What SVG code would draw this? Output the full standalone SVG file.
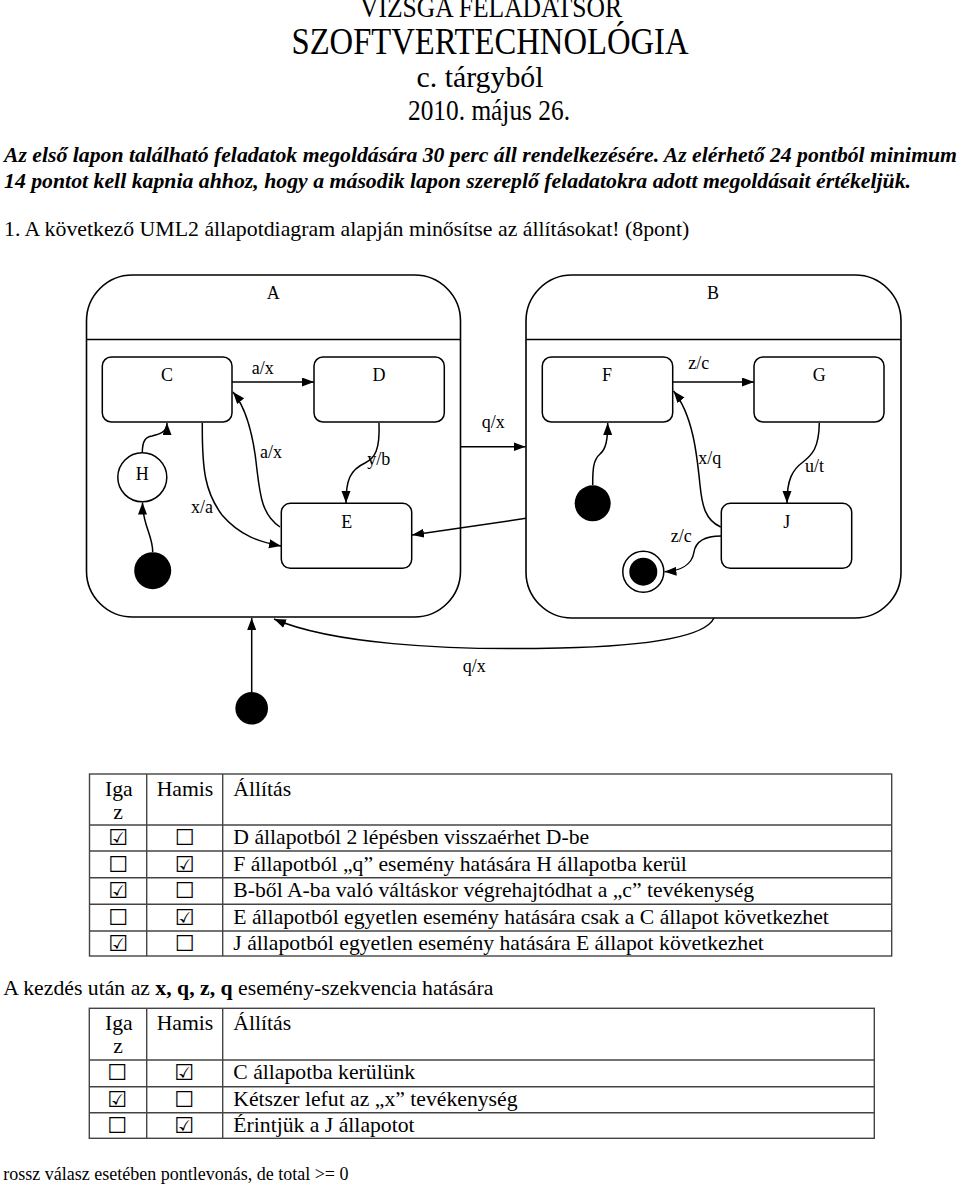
<svg xmlns="http://www.w3.org/2000/svg" width="960" height="1186" viewBox="0 0 960 1186">
<style>
text{font-family:"Liberation Serif","Times New Roman",serif;fill:#000}
.lbl{font-size:18px}
.mid{text-anchor:middle}
.state{fill:#fff;stroke:#000;stroke-width:1.5}
.comp{fill:#fff;stroke:#000;stroke-width:1.6}
.edge{fill:none;stroke:#000;stroke-width:1.5}
.dot{fill:#000}
.tb{font-size:21.7px}
.bi{font-size:21.8px;font-weight:bold;font-style:italic}
.grid{fill:none;stroke:#444;stroke-width:1.4}
.cb{font-family:"DejaVu Sans",sans-serif;font-size:22px;text-anchor:middle}
</style>
<defs>
<marker id="arr" markerUnits="userSpaceOnUse" markerWidth="13" markerHeight="10" refX="12" refY="4.5" orient="auto">
<path d="M0,0 L12,4.5 L0,9 z" fill="#000"/>
</marker>
</defs>
<rect width="960" height="1186" fill="#fff"/>

<g id="header">
<text class="mid" x="491" y="17" font-size="30" textLength="262" lengthAdjust="spacingAndGlyphs">VIZSGA FELADATSOR</text>
<text class="mid" x="490" y="54" font-size="38" textLength="397" lengthAdjust="spacingAndGlyphs">SZOFTVERTECHNOLÓGIA</text>
<text class="mid" x="480" y="87" font-size="30" textLength="127" lengthAdjust="spacingAndGlyphs">c. tárgyból</text>
<text class="mid" x="489" y="120" font-size="30" textLength="162" lengthAdjust="spacingAndGlyphs">2010. május 26.</text>
<text class="bi" x="4" y="162" textLength="953" lengthAdjust="spacingAndGlyphs">Az első lapon található feladatok megoldására 30 perc áll rendelkezésére. Az elérhető 24 pontból minimum</text>
<text class="bi" x="4" y="188" textLength="907" lengthAdjust="spacingAndGlyphs">14 pontot kell kapnia ahhoz, hogy a második lapon szereplő feladatokra adott megoldásait értékeljük.</text>
<text x="4" y="236" font-size="21.8">1. A következő UML2 állapotdiagram alapján minősítse az állításokat! (8pont)</text>
</g>

<g id="A">
<rect class="comp" x="86.5" y="275" width="374" height="342" rx="46" ry="46"/>
<line class="edge" x1="86.5" y1="339.5" x2="460.5" y2="339.5"/>
<text class="lbl mid" x="273.3" y="299">A</text>
</g>
<g id="B">
<rect class="comp" x="526" y="275" width="375" height="343" rx="46" ry="46"/>
<line class="edge" x1="526" y1="339.5" x2="901" y2="339.5"/>
<text class="lbl mid" x="713" y="299">B</text>
</g>

<g id="C"><rect class="state" x="102.3" y="357" width="129.7" height="65" rx="9"/><text class="lbl mid" x="167" y="381">C</text></g>
<g id="D"><rect class="state" x="314" y="357" width="130.3" height="65" rx="9"/><text class="lbl mid" x="379" y="381">D</text></g>
<g id="E"><rect class="state" x="281.3" y="503.3" width="130.4" height="65" rx="9"/><text class="lbl mid" x="346.7" y="527.5">E</text></g>
<g id="H"><circle class="state" cx="142.3" cy="477.3" r="24.5"/><text class="lbl mid" x="142.3" y="479.5">H</text></g>
<g id="initA"><circle class="dot" cx="152.7" cy="570.7" r="18.5"/></g>

<g id="F"><rect class="state" x="542.3" y="357" width="130.4" height="65" rx="9"/><text class="lbl mid" x="607" y="381">F</text></g>
<g id="G"><rect class="state" x="754" y="357" width="130" height="65" rx="9"/><text class="lbl mid" x="819.3" y="381">G</text></g>
<g id="J"><rect class="state" x="721.3" y="503.3" width="130.4" height="65" rx="9"/><text class="lbl mid" x="786.7" y="527.5">J</text></g>
<g id="initB"><circle class="dot" cx="592.7" cy="503.3" r="18"/></g>
<g id="finalB"><circle class="state" cx="643.3" cy="571.7" r="20.5"/><circle class="dot" cx="643.3" cy="571.7" r="14"/></g>

<g id="initTop"><circle class="dot" cx="251.7" cy="708.3" r="16.3"/></g>

<g id="connectors">
<path class="edge" marker-end="url(#arr)" d="M232,382 L314,382"/>
<path class="edge" marker-end="url(#arr)" d="M152.7,552 C152.7,535 142.5,525 142.5,502.5"/>
<path class="edge" marker-end="url(#arr)" d="M142.3,452.8 C142.3,440 146,437 152,436 C160,434 167,432 167,423"/>
<path class="edge" marker-end="url(#arr)" d="M202.3,423 C202,470 205,492 222,515 C240,536 260,542 281,546"/>
<path class="edge" marker-end="url(#arr)" d="M280,527 C262,515 260,495 257,470 C254,440 248,410 233,392"/>
<path class="edge" marker-end="url(#arr)" d="M379,423 C380,450 375,458 365,463 C350,470 346,480 346,503"/>
<path class="edge" marker-end="url(#arr)" d="M460.7,446.7 L525.5,446.7"/>
<path class="edge" marker-end="url(#arr)" d="M526,518.3 L412,535"/>
<path class="edge" marker-end="url(#arr)" d="M672.7,382 L754,382"/>
<path class="edge" marker-end="url(#arr)" d="M592.7,485 C592.7,470 593,460 600,454 C606,449 607.7,440 607.7,423"/>
<path class="edge" marker-end="url(#arr)" d="M720.7,527 C705,520 702,505 700,485 C697,455 693,415 673.5,391"/>
<path class="edge" marker-end="url(#arr)" d="M819.3,423 C819,448 812,455 803,462 C792,470 787,480 787,503"/>
<path class="edge" marker-end="url(#arr)" d="M721,536 C706,536 696,540 694,552 C692,565 680,571 664.5,571.7"/>
<path class="edge" marker-end="url(#arr)" d="M251.7,692 L251.7,618"/>
<path class="edge" marker-end="url(#arr)" d="M714,618 C705,637 650,646 560,648 C440,651 330,643 274,619"/>
<text class="lbl" x="251.7" y="374">a/x</text>
<text class="lbl" x="260" y="458.3">a/x</text>
<text class="lbl" x="191" y="512.7">x/a</text>
<text class="lbl" x="367.3" y="465">y/b</text>
<text class="lbl" x="481.7" y="428">q/x</text>
<text class="lbl" x="688.3" y="369">z/c</text>
<text class="lbl" x="698.3" y="464.3">x/q</text>
<text class="lbl" x="805" y="471.7">u/t</text>
<text class="lbl" x="670.7" y="541.7">z/c</text>
<text class="lbl" x="462.7" y="671.7">q/x</text>
</g>

<g id="table1">
<rect class="grid" x="89.5" y="774" width="802.2" height="182"/>
<line class="grid" x1="146.7" y1="774" x2="146.7" y2="956"/>
<line class="grid" x1="222.7" y1="774" x2="222.7" y2="956"/>
<line class="grid" x1="89.5" y1="825" x2="891.7" y2="825"/>
<line class="grid" x1="89.5" y1="851" x2="891.7" y2="851"/>
<line class="grid" x1="89.5" y1="877.7" x2="891.7" y2="877.7"/>
<line class="grid" x1="89.5" y1="904.3" x2="891.7" y2="904.3"/>
<line class="grid" x1="89.5" y1="931" x2="891.7" y2="931"/>
<text class="tb" x="105" y="796">Iga</text>
<text class="tb mid" x="118" y="819">z</text>
<text class="tb" x="156.7" y="796">Hamis</text>
<text class="tb" x="233.3" y="796">Állítás</text>
<text class="cb" x="118" y="845">☑</text><text class="cb" x="184.5" y="845">☐</text>
<text class="tb" x="233.3" y="844">D állapotból 2 lépésben visszaérhet D-be</text>
<text class="cb" x="118" y="871.5">☐</text><text class="cb" x="184.5" y="871.5">☑</text>
<text class="tb" x="233.3" y="870.5">F állapotból „q” esemény hatására H állapotba kerül</text>
<text class="cb" x="118" y="898">☑</text><text class="cb" x="184.5" y="898">☐</text>
<text class="tb" x="233.3" y="897">B-ből A-ba való váltáskor végrehajtódhat a „c” tevékenység</text>
<text class="cb" x="118" y="924.7">☐</text><text class="cb" x="184.5" y="924.7">☑</text>
<text class="tb" x="233.3" y="923.7">E állapotból egyetlen esemény hatására csak a C állapot következhet</text>
<text class="cb" x="118" y="951">☑</text><text class="cb" x="184.5" y="951">☐</text>
<text class="tb" x="233.3" y="950">J állapotból egyetlen esemény hatására E állapot következhet</text>
</g>

<g id="seq">
<text class="tb" x="3.3" y="995" textLength="490" lengthAdjust="spacingAndGlyphs">A kezdés után az <tspan font-weight="bold">x, q, z, q</tspan> esemény-szekvencia hatására</text>
</g>

<g id="table2">
<rect class="grid" x="89.3" y="1008.3" width="785" height="130"/>
<line class="grid" x1="146.7" y1="1008.3" x2="146.7" y2="1138.3"/>
<line class="grid" x1="222.7" y1="1008.3" x2="222.7" y2="1138.3"/>
<line class="grid" x1="89.3" y1="1060" x2="874.3" y2="1060"/>
<line class="grid" x1="89.3" y1="1086.7" x2="874.3" y2="1086.7"/>
<line class="grid" x1="89.3" y1="1112.7" x2="874.3" y2="1112.7"/>
<text class="tb" x="105" y="1030">Iga</text>
<text class="tb mid" x="118" y="1053">z</text>
<text class="tb" x="156.7" y="1030">Hamis</text>
<text class="tb" x="233.3" y="1030">Állítás</text>
<text class="cb" x="117" y="1080">☐</text><text class="cb" x="184" y="1080">☑</text>
<text class="tb" x="233.3" y="1079">C állapotba kerülünk</text>
<text class="cb" x="117" y="1106.5">☑</text><text class="cb" x="184" y="1106.5">☐</text>
<text class="tb" x="233.3" y="1105.5">Kétszer lefut az „x” tevékenység</text>
<text class="cb" x="117" y="1132.5">☐</text><text class="cb" x="184" y="1132.5">☑</text>
<text class="tb" x="233.3" y="1131.5">Érintjük a J állapotot</text>
</g>

<g id="footer">
<text x="3.3" y="1180" font-size="18">rossz válasz esetében pontlevonás, de total &gt;= 0</text>
</g>
</svg>
